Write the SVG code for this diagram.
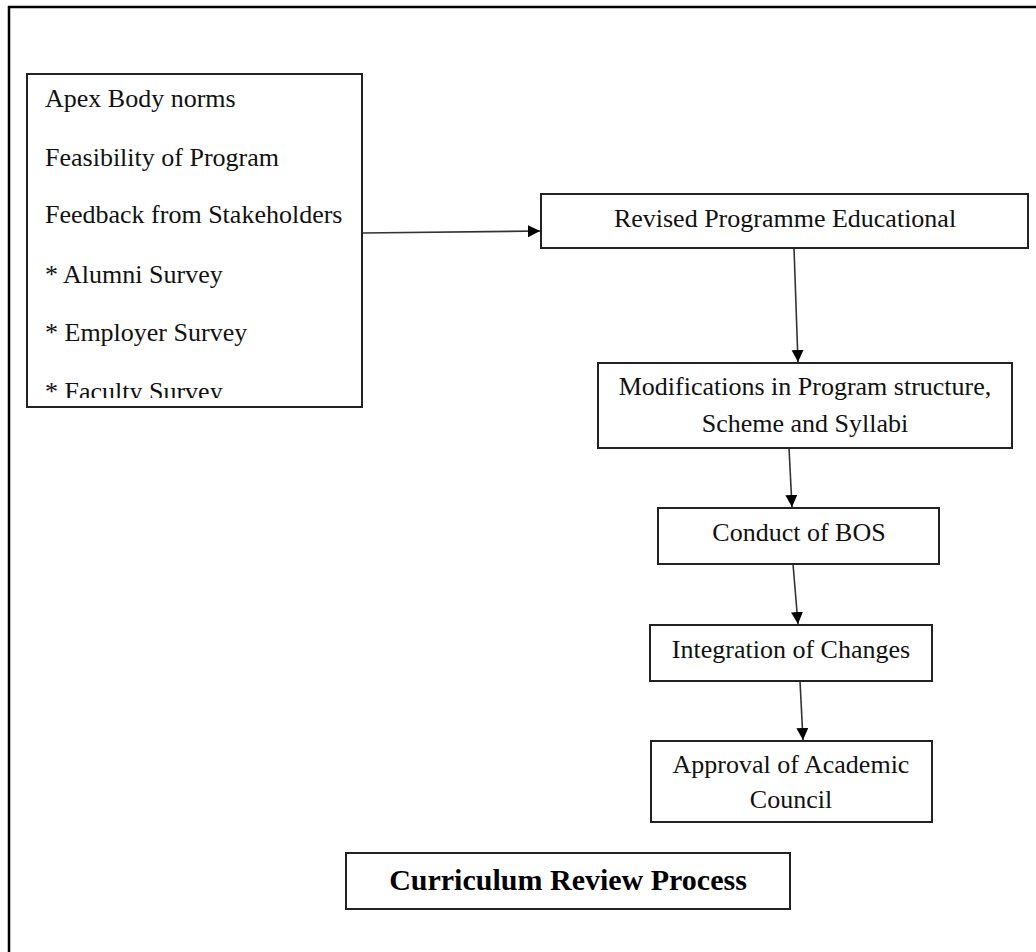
<svg xmlns="http://www.w3.org/2000/svg" width="1036" height="952" viewBox="0 0 1036 952">
<style>
  .box { fill: #ffffff; stroke: #222222; stroke-width: 2; }
  .t { font-family: "Liberation Serif", "Times New Roman", serif; font-size: 26px; fill: #111111; }
  .c { text-anchor: middle; }
  .title { font-family: "Liberation Serif", "Times New Roman", serif; font-size: 30px; font-weight: bold; fill: #000000; text-anchor: middle; }
  .conn { stroke: #333333; stroke-width: 1.6; fill: none; marker-end: url(#arrow); }
  .frame { stroke: #000000; stroke-width: 2.5; fill: none; }
</style>
<defs>
  <marker id="arrow" markerUnits="userSpaceOnUse" markerWidth="13" markerHeight="13" refX="12" refY="6" orient="auto">
    <path d="M0,0 L12,6 L0,12 Z" fill="#000000"/>
  </marker>
  <clipPath id="clipInputs">
    <rect x="27" y="74" width="335" height="324"/>
  </clipPath>
</defs>
<rect width="1036" height="952" fill="#ffffff"/>
<g id="frame">
  <path class="frame" d="M9,952 L9,7 L1036,7"/>
</g>
<g id="connectors">
  <line class="conn" x1="362" y1="233" x2="540" y2="231"/>
  <line class="conn" x1="794" y1="248" x2="798" y2="362"/>
  <line class="conn" x1="789" y1="448" x2="792" y2="507"/>
  <line class="conn" x1="793" y1="564" x2="798" y2="624"/>
  <line class="conn" x1="800" y1="681" x2="803" y2="740"/>
</g>
<g id="node-inputs">
  <rect class="box" x="27" y="74" width="335" height="333"/>
  <g clip-path="url(#clipInputs)">
    <text class="t" x="45" y="107">Apex Body norms</text>
    <text class="t" x="45" y="166">Feasibility of Program</text>
    <text class="t" x="45" y="223">Feedback from Stakeholders</text>
    <text class="t" x="45" y="283">* Alumni Survey</text>
    <text class="t" x="45" y="341">* Employer Survey</text>
    <text class="t" x="45" y="400">* Faculty Survey</text>
  </g>
</g>
<g id="node-revised">
  <rect class="box" x="541" y="194" width="487" height="54"/>
  <text class="t c" x="785" y="227">Revised Programme Educational</text>
</g>
<g id="node-modifications">
  <rect class="box" x="598" y="363" width="414" height="85"/>
  <text class="t c" x="805" y="395">Modifications in Program structure,</text>
  <text class="t c" x="805" y="432">Scheme and Syllabi</text>
</g>
<g id="node-bos">
  <rect class="box" x="658" y="508" width="281" height="56"/>
  <text class="t c" x="799" y="541">Conduct of BOS</text>
</g>
<g id="node-integration">
  <rect class="box" x="650" y="625" width="282" height="56"/>
  <text class="t c" x="791" y="658">Integration of Changes</text>
</g>
<g id="node-approval">
  <rect class="box" x="651" y="741" width="281" height="81"/>
  <text class="t c" x="791" y="773">Approval of Academic</text>
  <text class="t c" x="791" y="808">Council</text>
</g>
<g id="node-title">
  <rect class="box" x="346" y="853" width="444" height="56"/>
  <text class="title" x="568" y="890">Curriculum Review Process</text>
</g>
</svg>
